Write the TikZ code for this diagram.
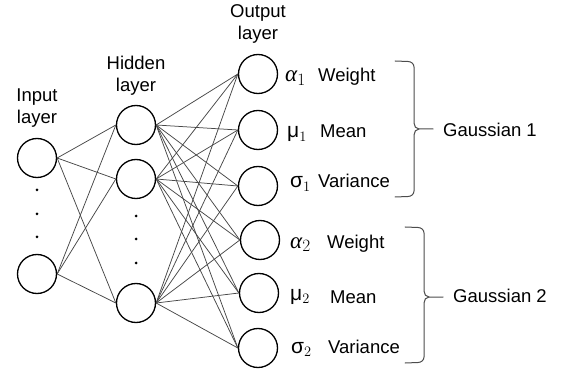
\documentclass[tikz,border=0pt]{standalone}
\usepackage{fontspec}
\setmainfont{Liberation Sans}
\newfontfamily\grkserif{Liberation Serif}
\begin{document}
\begin{tikzpicture}[x=1pt,y=-1pt,
  neuron/.style={circle,draw=black,line width=1.3pt,minimum size=39pt,inner sep=0pt},
  conn/.style={draw=black!72,line width=0.75pt},
  lbl/.style={font=\fontsize{18.5}{22}\selectfont,inner sep=0pt},
  txt/.style={lbl,anchor=base west},
  gk/.style={font=\fontsize{21}{24}\selectfont,inner sep=0pt,anchor=base west},
  gka/.style={font=\fontsize{23}{26}\selectfont,inner sep=0pt,anchor=base west},
  dotn/.style={circle,fill=black,inner sep=0pt,minimum size=3pt},
  brace/.style={draw=black!70,line width=1pt,line cap=round}]
\useasboundingbox (0,0) rectangle (563,377);

% layer titles
\node[lbl,anchor=base] (tin) at (37,124) {\begin{tabular}[b]{@{}c@{}}Input\\layer\end{tabular}};
\node[lbl,anchor=base] (thid) at (136,92) {\begin{tabular}[b]{@{}c@{}}Hidden\\layer\end{tabular}};
\node[lbl,anchor=base] (tout) at (258,40) {\begin{tabular}[b]{@{}c@{}}Output\\layer\end{tabular}};

% neurons
\node[neuron] (i1) at (37,158) {};
\node[neuron] (i2) at (37,274) {};
\node[neuron] (h1) at (136,125) {};
\node[neuron] (h2) at (136,179) {};
\node[neuron] (h3) at (136,303) {};
\node[neuron] (o1) at (258,74) {};
\node[neuron] (o2) at (258,130) {};
\node[neuron] (o3) at (258,186) {};
\node[neuron] (o4) at (260,240) {};
\node[neuron] (o5) at (259,293) {};
\node[neuron] (o6) at (258,348) {};

% ellipsis dots
\node[dotn] (d1) at (37,190) {};
\node[dotn] (d2) at (37,214) {};
\node[dotn] (d3) at (37,237) {};
\node[dotn] (d4) at (136,216) {};
\node[dotn] (d5) at (136,239) {};
\node[dotn] (d6) at (136,263) {};

% connections
\foreach \i in {i1,i2}
  \foreach \h in {h1,h2,h3}
    \draw[conn] (\i.east) -- (\h.west);
\foreach \h in {h1,h2,h3}
  \foreach \o in {o1,o2,o3,o4,o5,o6}
    \draw[conn] (\h.east) -- (\o.west);

% output labels
\node[gka] (a1) at (285,82) {{\grkserif\itshape α}$_1$};
\node[txt] (w1) at (318,82) {Weight};
\node[gk] (m1) at (287,138) {μ$_1$};
\node[txt] (mn1) at (320,138) {Mean};
\node[gk] (s1) at (290,188) {σ$_1$};
\node[txt] (v1) at (318,188) {Variance};
\node[gka] (a2) at (290,248) {{\grkserif\itshape α}$_2$};
\node[txt] (w2) at (327,248) {Weight};
\node[gk] (m2) at (290,300) {μ$_2$};
\node[txt] (mn2) at (330,304) {Mean};
\node[gk] (s2) at (291,353) {σ$_2$};
\node[txt] (v2) at (328,353) {Variance};

% braces
\draw[brace] (395,61) -- (408,61.5) to[out=0,in=90] (414,67) -- (414,123) to[out=-90,in=180] (419,129) -- (433,129);
\draw[brace] (395,197) -- (408,196.5) to[out=0,in=-90] (414,191) -- (414,135) to[out=90,in=180] (419,129);
\draw[brace] (405,227) -- (418,227.5) to[out=0,in=90] (424,233) -- (424,291) to[out=-90,in=180] (429,297) -- (443,297);
\draw[brace] (405,363) -- (418,362.5) to[out=0,in=-90] (424,357) -- (424,303) to[out=90,in=180] (429,297);

\node[txt] (g1) at (443,137) {Gaussian 1};
\node[txt] (g2) at (453,302) {Gaussian 2};
\end{tikzpicture}
\end{document}
